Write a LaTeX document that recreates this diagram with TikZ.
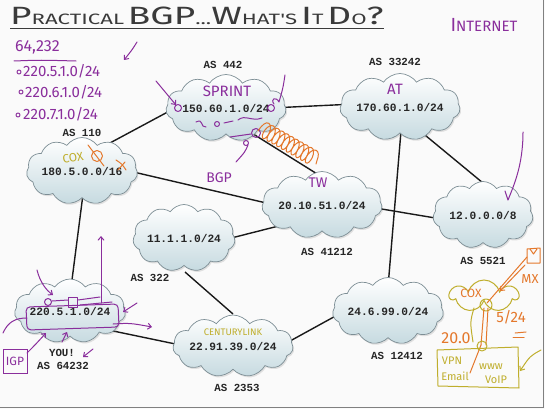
\documentclass[tikz,border=0pt]{standalone}
\usepackage{fontspec}
\setmonofont{Liberation Mono}
\newfontfamily\hand{Fira Sans}
\usetikzlibrary{shapes.symbols,shadows,backgrounds,decorations.pathmorphing,arrows.meta,calc}
\definecolor{pen}{HTML}{8A2E9C}
\definecolor{orng}{HTML}{E4782C}
\definecolor{olivec}{HTML}{BFAE2C}
\definecolor{cloudline}{HTML}{7D8E95}
\definecolor{cloudfill}{HTML}{C6DAE0}
\definecolor{titlec}{HTML}{3A3A3A}
\definecolor{board}{HTML}{FAFAFA}
\newcommand\TBig[1]{{\fontsize{25}{25}\selectfont #1}}
\newcommand\TSml[1]{{\fontsize{15}{15}\selectfont #1}}
\newcommand\HW[1]{\hand\fontsize{#1}{#1}\selectfont}
\tikzset{
  net/.style={cloud, cloud puffs=11, cloud puff arc=110, cloud ignores aspect, draw=cloudline, line width=0.7pt,
    top color=white, bottom color=cloudfill, minimum width=100pt, minimum height=67pt, inner sep=0pt,
    font=\ttfamily\bfseries\fontsize{11.2}{13}\selectfont, text=black!85,
    drop shadow={opacity=0.22, shadow xshift=1.2pt, shadow yshift=-1.6pt}},
  aslbl/.style={inner sep=0pt, font=\ttfamily\bfseries\fontsize{10.8}{12}\selectfont, text=black!85},
  link/.style={line width=1.4pt, black!90},
  ink/.style={draw=pen, line width=1pt, line cap=round, line join=round},
  oink/.style={draw=orng, line width=1pt, line cap=round, line join=round},
  yink/.style={draw=olivec, line width=1pt, line cap=round, line join=round},
  hw/.style={inner sep=0pt, font=\HW{14}},
  barb/.style={-{Straight Barb[length=3.5pt,width=6pt]}},
}
\begin{document}
\begin{tikzpicture}[x=1pt,y=-1pt]
\useasboundingbox (0,0) rectangle (545,409);

% clouds
\node[net] (c442) at (226,108) {150.60.1.0/24};
\node[net] (c33242) at (400,107) {170.60.1.0/24};
\node[net] (c110) at (82,171) {180.5.0.0/16};
\node[net] (c41212) at (322,205) {20.10.51.0/24};
\node[net] (c5521) at (483,215) {12.0.0.0/8};
\node[net] (c322) at (184,238) {11.1.1.0/24};
\node[net, minimum width=96pt, minimum height=64pt] (c64232) at (70,311) {220.5.1.0/24};
\node[net, minimum height=62pt] (c2353) at (233,346) {22.91.39.0/24};
\node[net] (c12412) at (388,311) {24.6.99.0/24};

% AS labels
\node[aslbl] (l442) at (223,65) {AS 442};
\node[aslbl] (l33242) at (395,62) {AS 33242};
\node[aslbl] (l110) at (82,133) {AS 110};
\node[aslbl] (l41212) at (327,252) {AS 41212};
\node[aslbl] (l5521) at (483,261) {AS 5521};
\node[aslbl] (l322) at (150,278) {AS 322};
\node[aslbl] (lyou) at (62,353) {YOU!};
\node[aslbl] (l64232) at (63,366) {AS 64232};
\node[aslbl] (l2353) at (237,388) {AS 2353};
\node[aslbl] (l12412) at (397,356) {AS 12412};

% links
\begin{scope}[on background layer]
\fill[board] (0,0) rectangle (545,409);
\draw[link] ($(c110.center)+(0,-13)$) -- ($(c442.center)+(-49,-1)$);
\draw[link] ($(c442.center)+(45,0)$) -- ($(c33242.center)+(-45,-3)$);
\draw[link] ($(c110.center)+(0,-11)$) -- ($(c41212.center)+(0,11)$);
\draw[link] ($(c442.center)+(0,9)$) -- ($(c41212.center)+(0,-28)$);
\draw[link] ($(c33242.center)+(3,0)$) -- ($(c12412.center)+(-2,0)$);
\draw[link] ($(c33242.center)+(-9,0)$) -- ($(c5521.center)+(0,-32)$);
\draw[link] ($(c41212.center)+(0,-6)$) -- ($(c5521.center)+(0,11)$);
\draw[link] ($(c322.center)+(0,12)$) -- ($(c41212.center)+(0,10)$);
\draw[link] ($(c110.center)+(4,0)$) -- ($(c64232.center)+(-2,0)$);
\draw[link] ($(c322.center)+(1,34)$) -- ($(c2353.center)+(0,-32)$);
\draw[link] ($(c64232.center)+(0,11)$) -- ($(c2353.center)+(0,10)$);
\draw[link] ($(c2353.center)+(48,0)$) -- ($(c12412.center)+(-47,2)$);
\end{scope}

% frame
\draw[black!50, line width=1.2pt] (0,407.8) -- (543.6,407.8) -- (543.6,0);

% title
\node[anchor=base west, inner sep=0, text=titlec, font=\hand] (title) at (10,25)
  {\scalebox{1.48}[1]{\TBig{P}\TSml{RACTICAL}\ \TBig{BGP}\TSml{...}\TBig{W}\TSml{HAT'S}\ \TBig{I}\TSml{T}\ \TBig{D}\TSml{O}\TBig{?}}};
\draw[titlec, line width=0.9pt] (10,28) -- (384,28);
\node[hw, text=pen] (inet) at (484,25) {\HW{19}I\HW{15}NTERNET};

% left list
\node[hw, text=pen, font=\HW{16}, anchor=west] (asn) at (15,47) {64,232};
\draw[ink] (14,61) .. controls (40,60) .. (76,61);
\draw[ink] (19,72) circle (2);
\node[hw, text=pen, font=\HW{15}, anchor=west] (p1) at (23,71) {220.5.1.0/24};
\draw[ink] (21,92) circle (2);
\node[hw, text=pen, font=\HW{15}, anchor=west] (p2) at (25,92) {220.6.1.0/24};
\draw[ink] (18,115) circle (2);
\node[hw, text=pen, font=\HW{15}, anchor=west] (p3) at (23,114) {220.7.1.0/24};
\draw[ink, barb] (137,42) .. controls (132,50) .. (124,60);

% AS 442 notes
\node[hw, text=pen, font=\HW{15}] (sprint) at (227,91) {SPRINT};
\draw[ink] (178,108) circle (3.5);
\draw[ink] (271,108) circle (3.5);
\draw[ink, barb] (156,81) .. controls (165,92) .. (176,105);
\draw[ink] (285,75) .. controls (283,88) .. (279,102) .. controls (276,96) and (270,99) .. (274,104);
\draw[ink] (196,122) .. controls (204,118) and (200,128) .. (206,127);
\draw[ink] (217,124) circle (2.5);
\draw[ink] (224,123) -- (233,121);
\draw[ink] (238,120) .. controls (245,114) and (252,122) .. (262,118);
\draw[ink] (230,137) -- (251,134);
\draw[ink] (256,133) circle (4.5);
\draw[ink] (246,143) circle (2.5);
\draw[ink] (248,145) .. controls (245,152) .. (236,162);
\node[hw, text=pen] (bgp) at (219,178) {BGP};
\draw[oink, decorate, decoration={coil, amplitude=8pt, segment length=5.5pt, raise=4pt}] (258,131) -- (316,164);

% AS 110 notes
\node[hw, text=olivec, rotate=10, font=\HW{12}] (cox1) at (73,158) {COX};
\draw[oink] (97,156) circle (5.5);
\draw[oink] (88,145) -- (104,166);
\draw[oink] (116,160) .. controls (122,164) .. (126,170);
\draw[oink] (118,170) -- (125,162);

\node[hw, text=pen] (tw) at (318,183) {TW};
\node[hw, text=pen, font=\HW{15}] (at) at (395,89) {AT};
\draw[ink] (523,132) .. controls (523,165) and (514,185) .. (508,200) -- (505,191);

% YOU notes
\draw[ink, rounded corners=4pt] (26,307) -- (118,304) -- (119,327) -- (27,330) -- cycle;
\draw[ink] (3,333) .. controls (8,322) and (15,318) .. (27,318);
\draw[ink, barb] (37,270) .. controls (40,282) and (46,290) .. (53,295);
\draw[ink, barb] (101,303) -- (101,236);
\draw[ink] (48,302) circle (3.5);
\draw[ink] (68,297) rectangle (77,307);
\draw[ink] (52,301) -- (68,300);
\draw[ink] (78,300) -- (100,297);
\draw[ink] (80,305) -- (112,302);
\draw[ink, barb] (137,303) -- (123,312);
\draw[ink, barb] (113,324) .. controls (130,323) .. (152,327);
\node[hw, text=pen, draw=pen, line width=1pt, font=\HW{12}, minimum width=24pt, minimum height=24pt] (igp) at (15,361) {IGP};
\draw[ink, barb] (27,353) .. controls (35,345) .. (46,333);
\draw[ink, barb] (62,342) -- (67,332);
\draw[ink, barb] (93,349) -- (83,357);

\node[hw, text=olivec, font=\HW{9.5}] (ctl) at (233,332) {CENTURYLINK};

% bottom right sketch
\draw[oink] (527,249) -- (540,248) -- (540,263) -- (527,263) -- cycle;
\draw[oink] (530,249) -- (533.5,254) -- (537,249);
\node[hw, text=orng, font=\HW{13}] (mx) at (530,279) {MX};
\node[cloud, cloud puffs=7, cloud ignores aspect, draw=olivec, line width=1pt, minimum width=68pt, minimum height=32pt] (coxc) at (484,296) {};
\node[hw, text=orng, font=\HW{12}] (cox2) at (471,293) {COX};
\draw[yink] (486,305) circle (6);
\draw[oink] (527,257) -- (487,303);
\draw[oink, barb] (525,265) -- (500,291);
\draw[oink] (484,308) -- (481,345);
\draw[oink] (488,308) -- (486,345);
\draw[oink] (481,345) -- (470,373);
\node[hw, text=orng, font=\HW{15}] (s24) at (511,317) {5/24};
\draw[oink] (515,333) -- (526,332);
\draw[oink] (513,337) -- (524,337);
\node[hw, text=orng, font=\HW{16}] (twenty) at (456,338) {20.0};
\draw[yink] (482,346) circle (5);
\draw[yink] (474,308) .. controls (470,322) .. (473,342);
\draw[yink] (437,350) -- (518,347) -- (519,388) -- (438,386) -- cycle;
\node[hw, text=olivec, font=\HW{11}] (vpn) at (452,361) {VPN};
\node[hw, text=olivec, font=\HW{11}] (email) at (455,376) {Email};
\node[hw, text=olivec, font=\HW{11}] (www) at (491,367) {www};
\node[hw, text=olivec, font=\HW{11}] (voip) at (496,380) {VoIP};
\draw[yink, barb] (541,350) .. controls (530,356) .. (520,371);
\end{tikzpicture}
\end{document}
